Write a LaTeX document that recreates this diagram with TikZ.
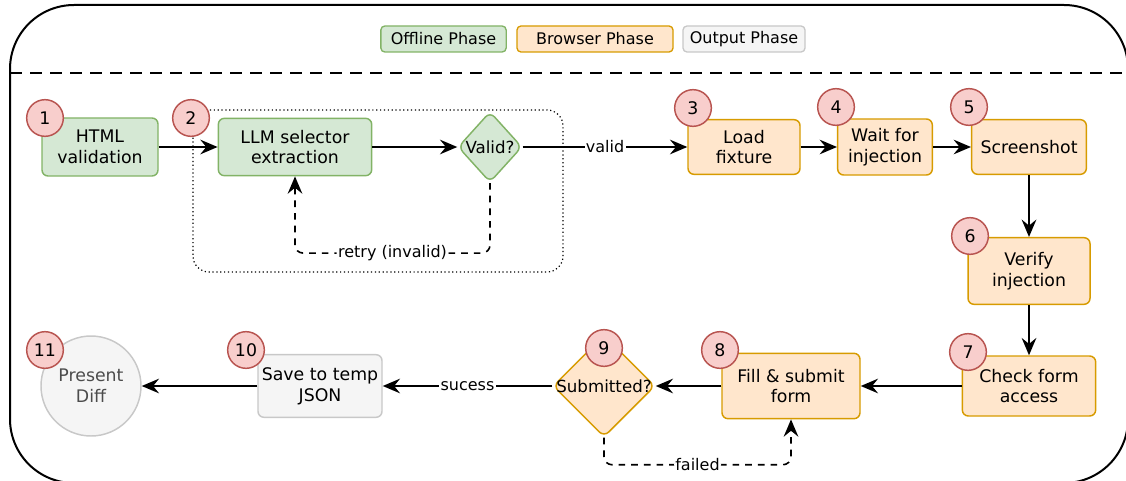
\documentclass[tikz,border=0pt]{standalone}
\usepackage{fontspec}
\setmainfont{DejaVu Sans}
\usetikzlibrary{arrows.meta,shapes.geometric,positioning}
\definecolor{offfill}{HTML}{D5E8D4}
\definecolor{offdraw}{HTML}{82B366}
\definecolor{brwfill}{HTML}{FFE6CC}
\definecolor{brwdraw}{HTML}{D79B00}
\definecolor{outfill}{HTML}{F5F5F5}
\definecolor{outdraw}{HTML}{C8C8C8}
\definecolor{numfill}{HTML}{F8CECC}
\definecolor{numdraw}{HTML}{B85450}
\tikzset{box/.style={draw, rounded corners=4.5pt, line width=1.1pt, align=center, inner sep=1pt, font=\fontsize{13}{15.5}\selectfont},
  offline/.style={box, fill=offfill, draw=offdraw},
  browser/.style={box, fill=brwfill, draw=brwdraw},
  output/.style={box, fill=outfill, draw=outdraw},
  legend/.style={draw, rounded corners=3pt, line width=1pt, minimum height=19.5pt, inner sep=0pt, font=\fontsize{12}{14}\selectfont},
  badge/.style={circle, draw=numdraw, fill=numfill, line width=1.1pt, minimum size=27.5pt, inner sep=0pt, font=\fontsize{13}{15}\selectfont},
  decision/.style={diamond, rounded corners=5pt, line width=1.1pt, inner sep=0pt, label={[font=\fontsize{12.5}{14}\selectfont]center:#1}},
  flow/.style={-{Stealth[length=13pt,width=11pt,inset=4.5pt]}, line width=1.2pt},
  loopback/.style={flow, dash pattern=on 5pt off 4.5pt, rounded corners=6pt},
  lbl/.style={fill=white, inner sep=1pt, font=\fontsize{12}{14}\selectfont}}

\begin{document}
\begin{tikzpicture}[x=0.75pt, y=-0.75pt]
    \clip (0,0) rectangle (1126,481);
    \draw[line width=1.5pt, rounded corners=48pt] (10,5) rectangle (1128,483);
    \draw[line width=1.1pt, dash pattern=on 9pt off 6pt] (10,73) -- (1126,73);
    \node[legend, fill=offfill, draw=offdraw, minimum width=94pt] (L1) at (443.5,39) {Offline Phase};
    \node[legend, fill=brwfill, draw=brwdraw, minimum width=117pt] (L2) at (595,39) {Browser Phase};
    \node[legend, fill=outfill, draw=outdraw, minimum width=91.5pt] (L3) at (744,39) {Output Phase};
    \draw[dotted, line width=0.9pt, rounded corners=12pt] (193,110) rectangle (563,272);

    \node[offline, minimum width=87pt, minimum height=43.5pt] (N1) at (100,147) {HTML\\validation};
    \node[offline, minimum width=115pt, minimum height=43pt] (N2) at (295,147) {LLM selector\\extraction};
    \node[decision=Valid?, fill=offfill, draw=offdraw, minimum width=48pt, minimum height=53pt] (V) at (490,147) {};
    \node[browser, minimum width=84pt, minimum height=41pt] (N3) at (744,147) {Load\\fixture};
    \node[browser, minimum width=71pt, minimum height=42pt] (N4) at (885,147) {Wait for\\injection};
    \node[browser, minimum width=86pt, minimum height=41pt] (N5) at (1029,147) {Screenshot};
    \node[browser, minimum width=91.5pt, minimum height=50pt] (N6) at (1029,271) {Verify\\injection};
    \node[browser, minimum width=100pt, minimum height=45pt] (N7) at (1029,386) {Check form\\access};
    \node[browser, minimum width=103.5pt, minimum height=49pt] (N8) at (791,386) {Fill \& submit\\form};
    \node[decision=Submitted?, fill=brwfill, draw=brwdraw, minimum width=76.5pt, minimum height=76.5pt] (N9) at (604,386) {};
    \node[output, minimum width=93pt, minimum height=47pt] (N10) at (320,386) {Save to temp\\JSON};
    \node[output, circle, text=black!70, minimum size=75pt] (N11) at (91,386) {Present\\Diff};

    \draw[flow] (N1) -- (N2);
    \draw[flow] (N2) -- (V);
    \draw[flow] (V) -- node[lbl] {valid} (N3);
    \draw[flow] (N3) -- (N4);
    \draw[flow] (N4) -- (N5);
    \draw[flow] (N5) -- (N6);
    \draw[flow] (N6) -- (N7);
    \draw[flow] (N7) -- (N8);
    \draw[flow] (N8) -- (N9);
    \draw[flow] (N9) -- node[lbl] {sucess} (N10);
    \draw[flow] (N10) -- (N11);
    \draw[loopback] (V.south) -- ++(0,70) -| node[lbl, pos=0.25] {retry (invalid)} (N2.south);
    \draw[loopback] (N9.south) -- ++(0,27) -| node[lbl, pos=0.25] {failed} (N8.south);

    \node[badge] (B1) at (45,118) {1};
    \node[badge] (B2) at (191,118) {2};
    \node[badge] (B3) at (693,108) {3};
    \node[badge] (B4) at (836,107) {4};
    \node[badge] (B5) at (969,107) {5};
    \node[badge] (B6) at (970,236) {6};
    \node[badge] (B7) at (968,352) {7};
    \node[badge] (B8) at (720,350) {8};
    \node[badge] (B9) at (604,348) {9};
    \node[badge] (B10) at (246,350) {10};
    \node[badge] (B11) at (45,350) {11};
\end{tikzpicture}
\end{document}
